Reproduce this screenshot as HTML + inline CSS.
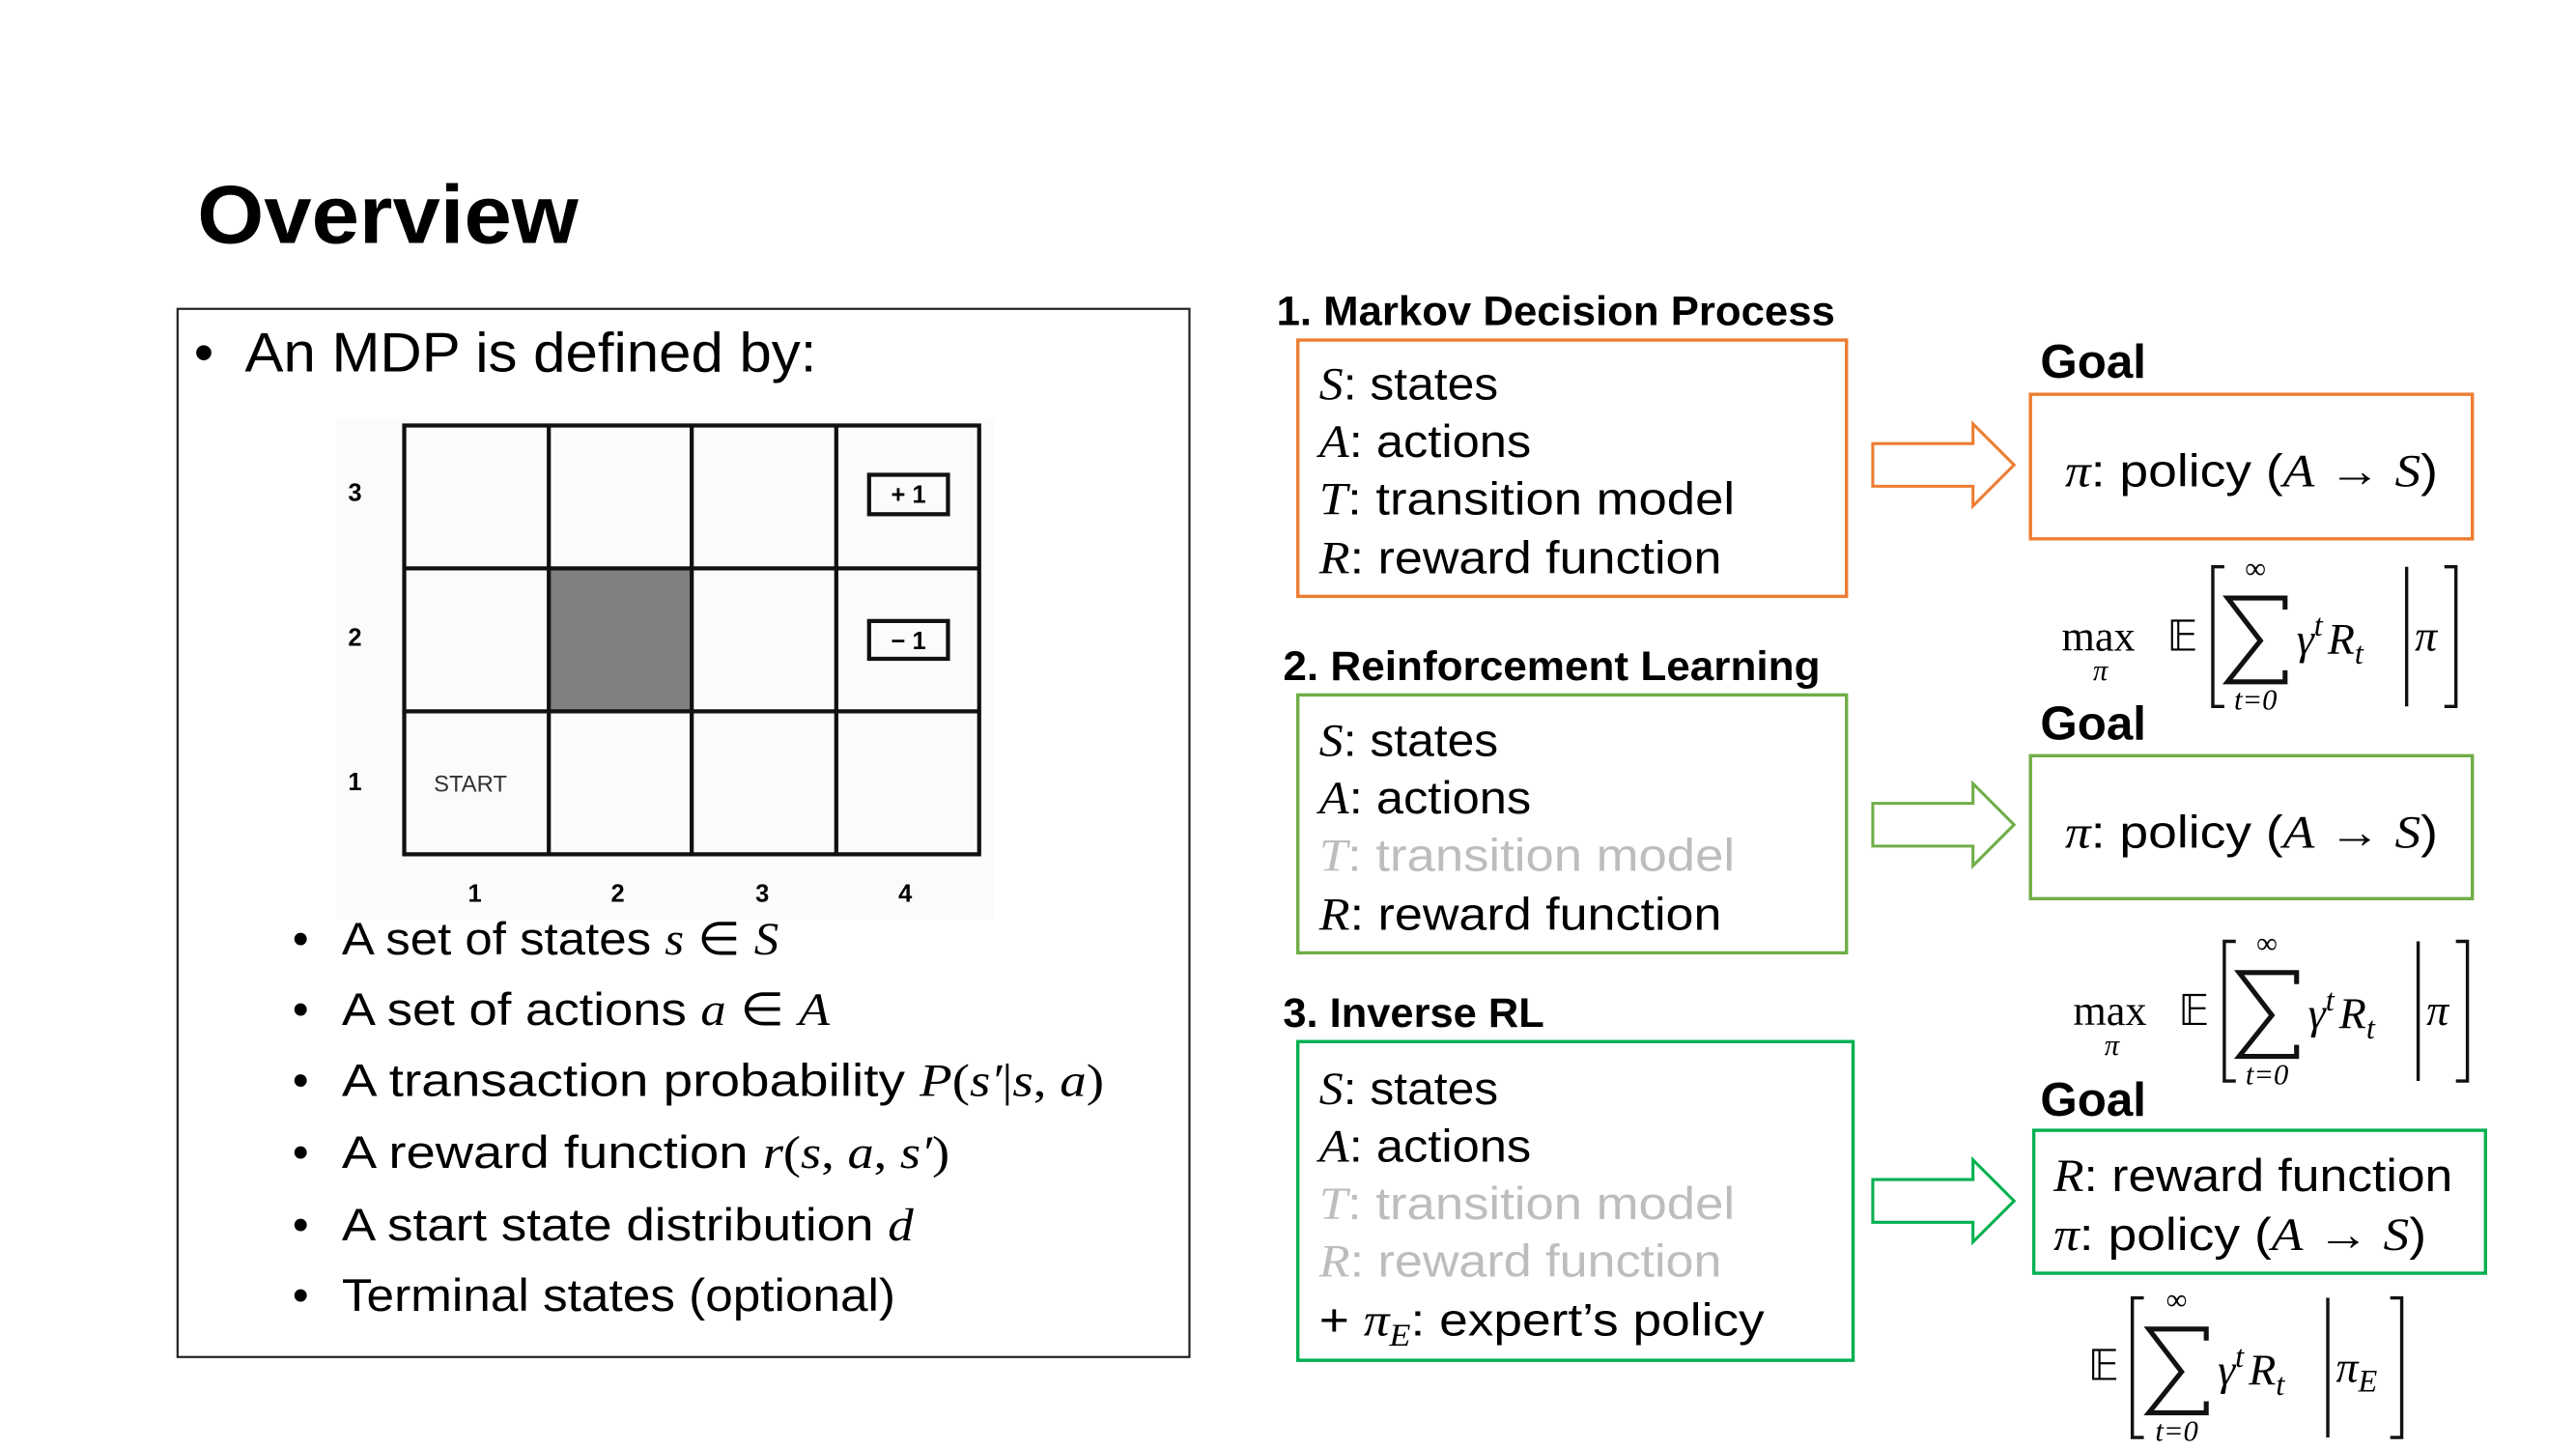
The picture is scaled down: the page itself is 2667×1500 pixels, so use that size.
<!DOCTYPE html>
<html><head><meta charset="utf-8"><style>
html,body{margin:0;padding:0;background:#fff;width:2667px;height:1500px;overflow:hidden}
svg{display:block}
.s{font-family:"Liberation Sans",sans-serif}
.m{font-family:"Liberation Serif",serif;font-style:italic}
.r{font-family:"Liberation Serif",serif}
</style></head><body>
<svg width="2667" height="1500" viewBox="0 0 1568 882" xmlns="http://www.w3.org/2000/svg">
<text x="120" y="148" class="s" font-size="50" font-weight="bold" textLength="232" lengthAdjust="spacingAndGlyphs">Overview</text>
<rect x="108" y="188" width="616" height="638" fill="none" stroke="#222" stroke-width="1.3"/>
<text x="118" y="226" class="s" font-size="34">•</text>
<text x="149" y="226" class="s" font-size="34" textLength="348" lengthAdjust="spacingAndGlyphs">An MDP is defined by:</text>
<!-- grid -->
<rect x="205" y="255" width="400" height="305" fill="#fbfbfb"/>
<rect x="334" y="346" width="87" height="87" fill="#808080"/>
<g stroke="#111" stroke-width="2.5" fill="none">
<rect x="246" y="259" width="350" height="261"/>
<line x1="334" y1="259" x2="334" y2="520"/><line x1="421" y1="259" x2="421" y2="520"/><line x1="509" y1="259" x2="509" y2="520"/>
<line x1="246" y1="346" x2="596" y2="346"/><line x1="246" y1="433" x2="596" y2="433"/>
<rect x="529" y="289" width="48" height="24"/><rect x="529" y="378" width="48" height="23"/>
</g>
<g class="s" font-size="15" font-weight="bold" text-anchor="middle">
<text x="553" y="306">+ 1</text><text x="553" y="395">− 1</text>
<text x="216" y="305">3</text><text x="216" y="393">2</text><text x="216" y="481">1</text>
<text x="289" y="549">1</text><text x="376" y="549">2</text><text x="464" y="549">3</text><text x="551" y="549">4</text>
</g>
<text x="264" y="482" class="s" font-size="14" fill="#333">START</text>
<g font-size="28">
<g class="s"><text x="178" y="581">•</text><text x="178" y="624">•</text><text x="178" y="667">•</text><text x="178" y="711">•</text><text x="178" y="755">•</text><text x="178" y="798">•</text></g>
<text x="208" y="581" class="s" textLength="266" lengthAdjust="spacingAndGlyphs">A set of states <tspan class="m">s</tspan> ∈ <tspan class="m">S</tspan></text>
<text x="208" y="624" class="s" textLength="297" lengthAdjust="spacingAndGlyphs">A set of actions <tspan class="m">a</tspan> ∈ <tspan class="m">A</tspan></text>
<text x="208" y="667" class="s" textLength="464" lengthAdjust="spacingAndGlyphs">A transaction probability <tspan class="m">P</tspan><tspan class="r">(</tspan><tspan class="m">s′</tspan><tspan class="r">|</tspan><tspan class="m">s</tspan><tspan class="r">, </tspan><tspan class="m">a</tspan><tspan class="r">)</tspan></text>
<text x="208" y="711" class="s" textLength="370" lengthAdjust="spacingAndGlyphs">A reward function <tspan class="m">r</tspan><tspan class="r">(</tspan><tspan class="m">s</tspan><tspan class="r">, </tspan><tspan class="m">a</tspan><tspan class="r">, </tspan><tspan class="m">s′</tspan><tspan class="r">)</tspan></text>
<text x="208" y="755" class="s" textLength="348" lengthAdjust="spacingAndGlyphs">A start state distribution <tspan class="m">d</tspan></text>
<text x="208" y="798" class="s" textLength="337" lengthAdjust="spacingAndGlyphs">Terminal states (optional)</text>
</g>
<!-- right -->
<g class="s" font-weight="bold" font-size="25">
<text x="777" y="198" textLength="340" lengthAdjust="spacingAndGlyphs">1. Markov Decision Process</text>
<text x="781" y="414" textLength="327" lengthAdjust="spacingAndGlyphs">2. Reinforcement Learning</text>
<text x="781" y="625" textLength="159" lengthAdjust="spacingAndGlyphs">3. Inverse RL</text>
</g>
<g class="s" font-weight="bold" font-size="29">
<text x="1242" y="230">Goal</text><text x="1242" y="450">Goal</text><text x="1242" y="679">Goal</text>
</g>
<rect x="790" y="207" width="334" height="156" fill="none" stroke="#ED7D31" stroke-width="2"/>
<rect x="790" y="423" width="334" height="157" fill="none" stroke="#70AD47" stroke-width="2"/>
<rect x="790" y="634" width="338" height="194" fill="none" stroke="#00B050" stroke-width="2"/>
<rect x="1236" y="240" width="269" height="88" fill="none" stroke="#ED7D31" stroke-width="2"/>
<rect x="1236" y="460" width="269" height="87" fill="none" stroke="#70AD47" stroke-width="2"/>
<rect x="1238" y="688" width="275" height="87" fill="none" stroke="#00B050" stroke-width="2"/>
<g fill="#fff" stroke-width="1.8">
<polygon points="1140,270 1201,270 1201,258 1226,283 1201,308 1201,296 1140,296" stroke="#ED7D31"/>
<polygon points="1140,489 1201,489 1201,477 1226,502 1201,527 1201,515 1140,515" stroke="#70AD47"/>
<polygon points="1140,718 1201,718 1201,706 1226,731 1201,756 1201,744 1140,744" stroke="#00B050"/>
</g>
<g class="s" font-size="28">
<text x="803" y="243" textLength="109" lengthAdjust="spacingAndGlyphs"><tspan class="m">S</tspan>: states</text>
<text x="803" y="278" textLength="129" lengthAdjust="spacingAndGlyphs"><tspan class="m">A</tspan>: actions</text>
<text x="803" y="313" textLength="253" lengthAdjust="spacingAndGlyphs"><tspan class="m">T</tspan>: transition model</text>
<text x="803" y="349" textLength="245" lengthAdjust="spacingAndGlyphs"><tspan class="m">R</tspan>: reward function</text>
<text x="803" y="460" textLength="109" lengthAdjust="spacingAndGlyphs"><tspan class="m">S</tspan>: states</text>
<text x="803" y="495" textLength="129" lengthAdjust="spacingAndGlyphs"><tspan class="m">A</tspan>: actions</text>
<text x="803" y="530" fill="#bdbdbd" textLength="253" lengthAdjust="spacingAndGlyphs"><tspan class="m">T</tspan>: transition model</text>
<text x="803" y="566" textLength="245" lengthAdjust="spacingAndGlyphs"><tspan class="m">R</tspan>: reward function</text>
<text x="803" y="672" textLength="109" lengthAdjust="spacingAndGlyphs"><tspan class="m">S</tspan>: states</text>
<text x="803" y="707" textLength="129" lengthAdjust="spacingAndGlyphs"><tspan class="m">A</tspan>: actions</text>
<text x="803" y="742" fill="#bdbdbd" textLength="253" lengthAdjust="spacingAndGlyphs"><tspan class="m">T</tspan>: transition model</text>
<text x="803" y="777" fill="#bdbdbd" textLength="245" lengthAdjust="spacingAndGlyphs"><tspan class="m">R</tspan>: reward function</text>
<text x="803" y="813" textLength="271" lengthAdjust="spacingAndGlyphs">+ <tspan class="m">π</tspan><tspan class="m" font-size="19" dy="6">E</tspan><tspan dy="-6">: expert’s policy</tspan></text>
<text x="1257" y="296" textLength="227" lengthAdjust="spacingAndGlyphs"><tspan class="m">π</tspan>: policy (<tspan class="m">A</tspan> → <tspan class="m">S</tspan>)</text>
<text x="1257" y="516" textLength="227" lengthAdjust="spacingAndGlyphs"><tspan class="m">π</tspan>: policy (<tspan class="m">A</tspan> → <tspan class="m">S</tspan>)</text>
<text x="1250" y="725" textLength="243" lengthAdjust="spacingAndGlyphs"><tspan class="m">R</tspan>: reward function</text>
<text x="1250" y="761" textLength="227" lengthAdjust="spacingAndGlyphs"><tspan class="m">π</tspan>: policy (<tspan class="m">A</tspan> → <tspan class="m">S</tspan>)</text>
</g>
<!-- formula 1 -->
<g id="f1">
<text x="1255" y="396" class="r" font-size="26">max</text>
<text x="1274" y="414" class="m" font-size="18">π</text>
<text x="1319" y="396" class="r" font-size="26">𝔼</text>
<path d="M1354,345 H1347 V430 H1354 M1488,345 H1495 V430 H1488" fill="none" stroke="#111" stroke-width="2"/>
<text x="1373" y="352" class="r" font-size="18" text-anchor="middle">∞</text>
<path d="M1391,371 V364 H1356 L1376,390 L1356,415 H1391 V408" fill="none" stroke="#111" stroke-width="3" stroke-linejoin="miter"/>
<text x="1373" y="432" class="m" font-size="18" text-anchor="middle">t<tspan class="r">=0</tspan></text>
<text x="1398" y="398" class="m" font-size="27">γ<tspan font-size="19" dy="-11">t</tspan><tspan dy="11" dx="3">R</tspan><tspan font-size="19" dy="6">t</tspan></text>
<line x1="1465" y1="345" x2="1465" y2="430" stroke="#111" stroke-width="2"/>
<text x="1470" y="396" class="m" font-size="27">π</text>
</g>
<use href="#f1" transform="translate(7,228)"/>
<!-- formula 3 -->
<g>
<text x="1271" y="840" class="r" font-size="26">𝔼</text>
<path d="M1305,790 H1298 V875 H1305 M1455,790 H1462 V875 H1455" fill="none" stroke="#111" stroke-width="2"/>
<text x="1325" y="797" class="r" font-size="18" text-anchor="middle">∞</text>
<path d="M1343,816 V809 H1308 L1328,835 L1308,860 H1343 V853" fill="none" stroke="#111" stroke-width="3"/>
<text x="1325" y="877" class="m" font-size="18" text-anchor="middle">t<tspan class="r">=0</tspan></text>
<text x="1350" y="843" class="m" font-size="27">γ<tspan font-size="19" dy="-11">t</tspan><tspan dy="11" dx="3">R</tspan><tspan font-size="19" dy="6">t</tspan></text>
<line x1="1417" y1="790" x2="1417" y2="875" stroke="#111" stroke-width="2"/>
<text x="1422" y="841" class="m" font-size="27">π<tspan font-size="19" dy="6">E</tspan></text>
</g>
</svg>
</body></html>
